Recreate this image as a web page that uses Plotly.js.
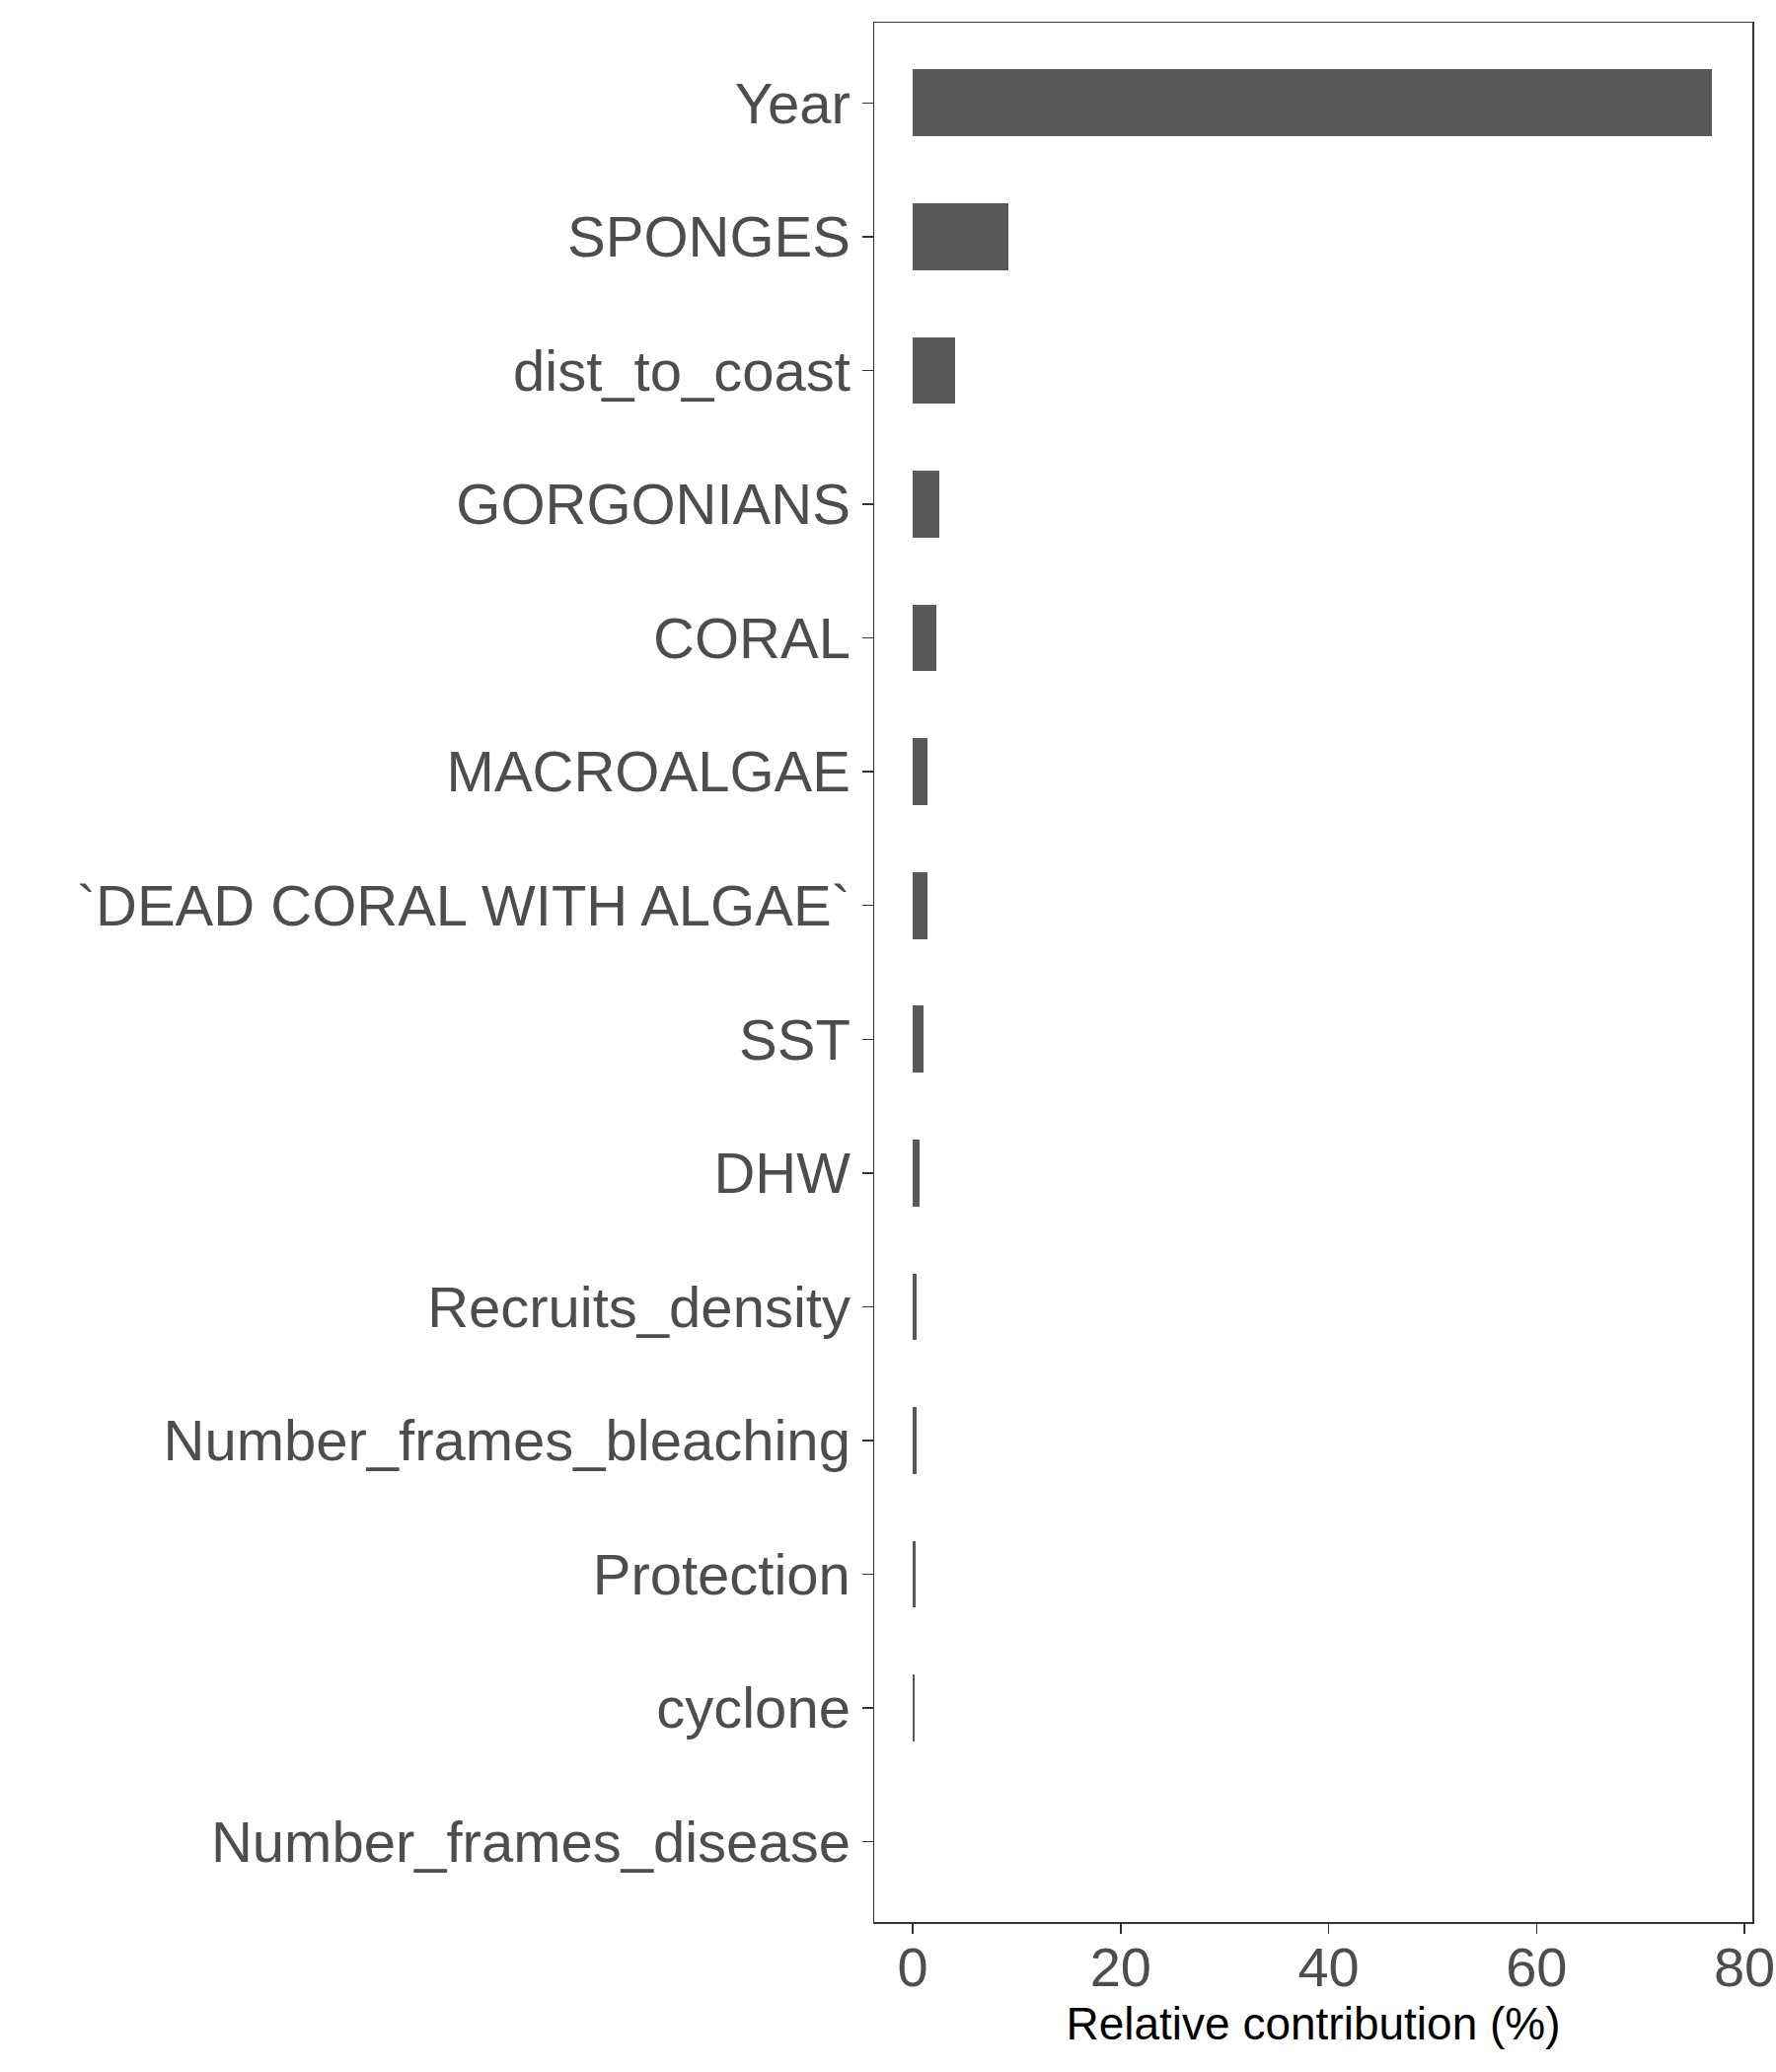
<!DOCTYPE html>
<html>
<head>
<meta charset="utf-8">
<script src="https://cdn.plot.ly/plotly-3.0.1.min.js"></script>
<style>body{margin:0;background:#fff;}</style>
</head>
<body>
<div id="chart" style="width:1800px;height:2100px;"></div>
<script>
const categories = ["Year", "SPONGES", "dist_to_coast", "GORGONIANS", "CORAL", "MACROALGAE",
  "`DEAD CORAL WITH ALGAE`", "SST", "DHW", "Recruits_density", "Number_frames_bleaching",
  "Protection", "cyclone", "Number_frames_disease"];
const contribution = [76.9, 9.2, 4.1, 2.6, 2.3, 1.45, 1.39, 1.0, 0.66, 0.41, 0.38, 0.25, 0.15, 0.03];
const xTicks = [0, 20, 40, 60, 80];

const trace = {
  type: 'bar',
  orientation: 'h',
  x: contribution,
  y: categories,
  width: 0.5,
  marker: {color: '#595959', line: {width: 0}},
  hoverinfo: 'x+y'
};

const layout = {
  width: 1800,
  height: 2100,
  margin: {l: 886, r: 24, t: 23, b: 152, pad: 0},
  paper_bgcolor: '#ffffff',
  plot_bgcolor: '#ffffff',
  font: {family: '"Liberation Sans", Arial, sans-serif', color: '#4d4d4d'},
  showlegend: false,
  bargap: 0,
  xaxis: {
    range: [-3.7, 80.75],
    tickvals: xTicks,
    ticktext: xTicks.map(String),
    showgrid: false,
    zeroline: false,
    showline: true,
    mirror: true,
    linecolor: '#333333',
    linewidth: 1.5,
    ticks: 'outside',
    ticklen: 10,
    tickwidth: 1.5,
    tickcolor: '#333333',
    ticklabelstandoff: -14,
    tickfont: {size: 56, color: '#4d4d4d'},
    title: {text: 'Relative contribution (%)', font: {size: 46, color: '#000000'}, standoff: 0}
  },
  yaxis: {
    type: 'category',
    categoryorder: 'array',
    categoryarray: categories,
    range: [13.6, -0.6],
    showgrid: false,
    zeroline: false,
    showline: true,
    mirror: true,
    linecolor: '#333333',
    linewidth: 1.5,
    ticks: 'outside',
    ticklen: 11,
    tickwidth: 1.5,
    tickcolor: '#333333',
    tickfont: {size: 58, color: '#4d4d4d'}
  }
};

Plotly.newPlot('chart', [trace], layout, {displayModeBar: false, staticPlot: true});
</script>
</body>
</html>
